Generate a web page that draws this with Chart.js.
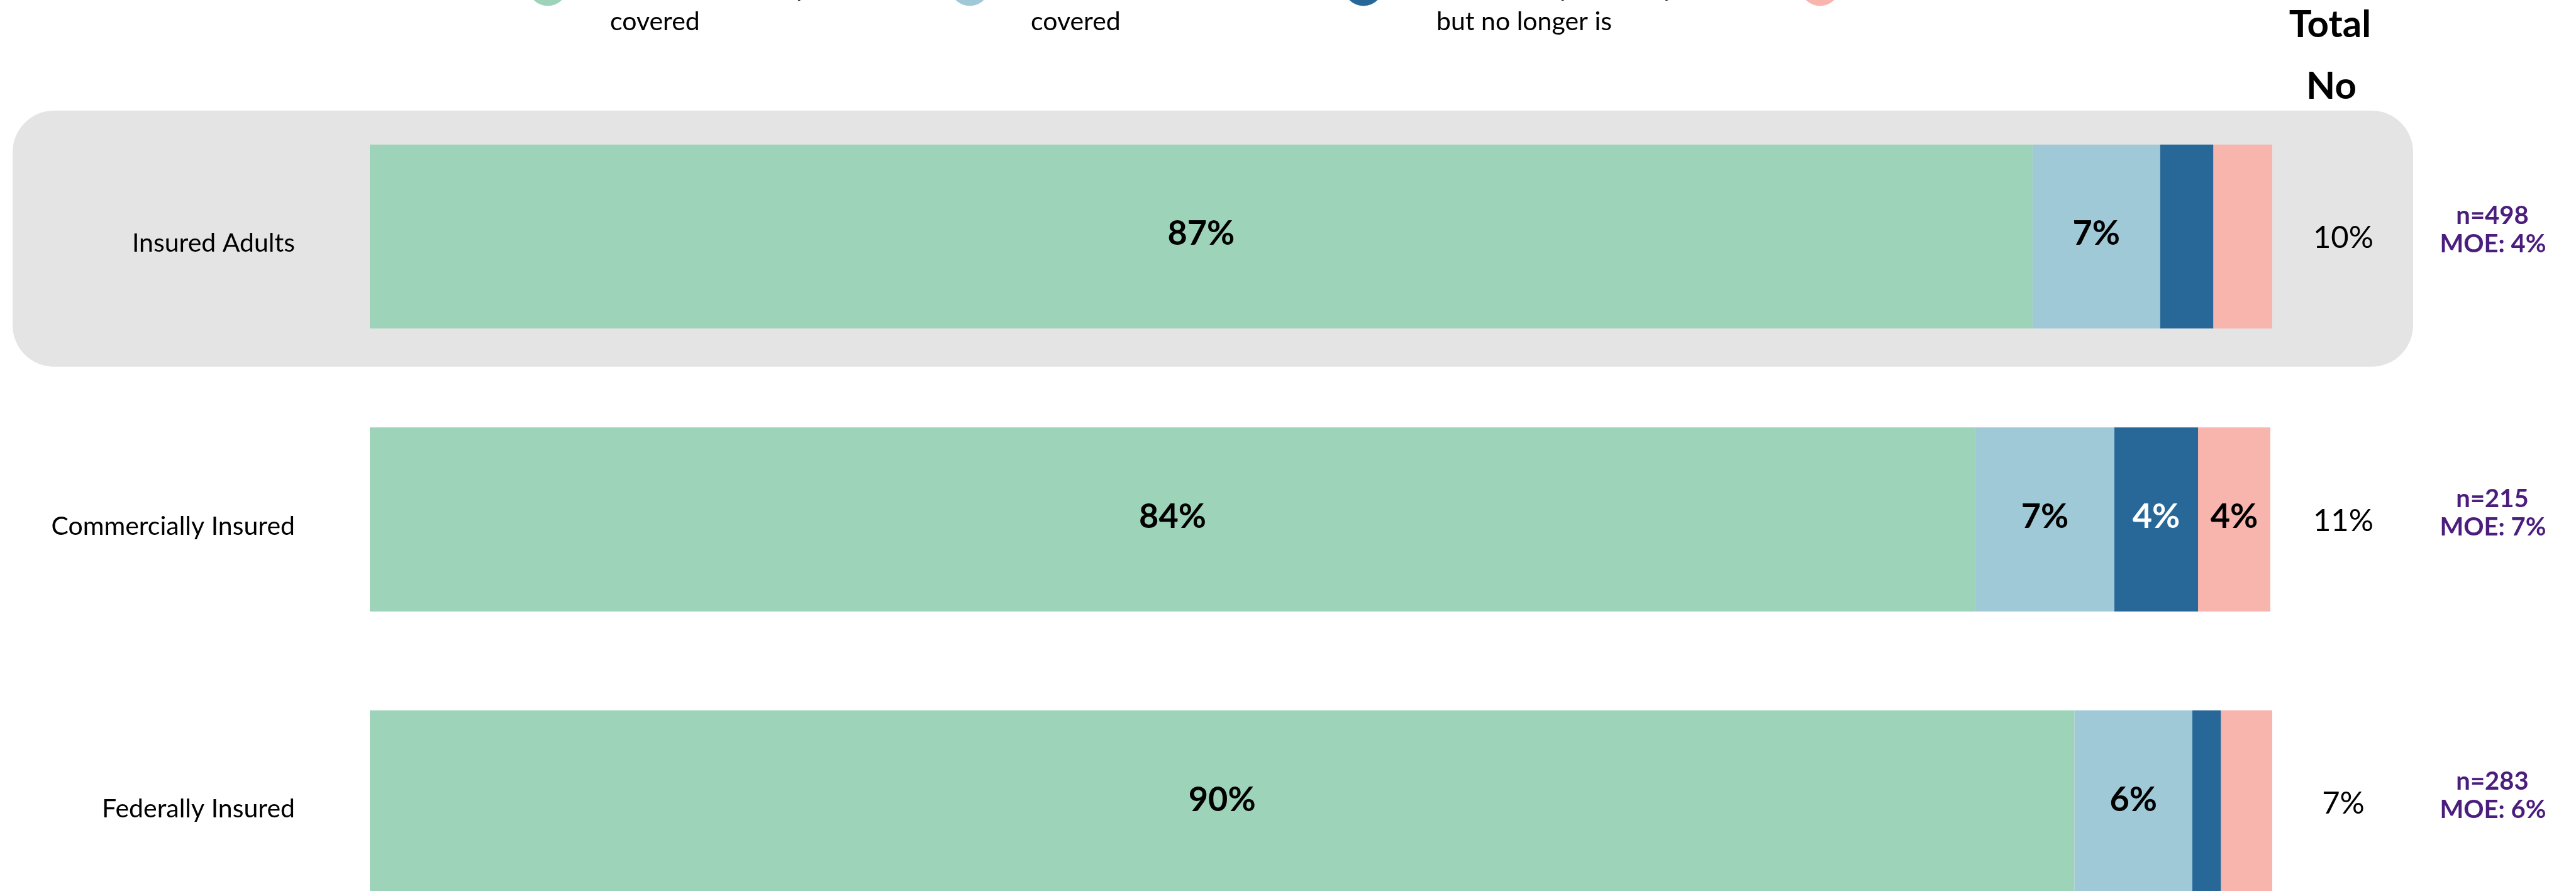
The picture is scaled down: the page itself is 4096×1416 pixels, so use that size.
<!DOCTYPE html>
<html>
<head>
<meta charset="utf-8">
<title>Cobertura</title>
<script src="https://cdn.jsdelivr.net/npm/chart.js@4/dist/chart.umd.min.js"></script>
<style>
    html, body { margin: 0; padding: 0; background: #fff; overflow: hidden; }
    #marco { position: relative; width: 4096px; height: 1416px; overflow: hidden; }
    #chart1 { position: absolute; left: 0; top: 0; width: 4096px; height: 1500px; }
</style>
</head>
<body>
<div id="marco"><canvas id="chart1" width="4096" height="1500"></canvas></div>
<script>
// Datos.
const categorias = ['Insured Adults', 'Commercially Insured', 'Federally Insured'];
const nombresSeries = [
    ['Yes, it is currently', 'covered'],
    ['No, it is not', 'covered'],
    ['Yes, it was previously covered,', 'but no longer is'],
    ["Don't know, not sure"]
];
const siCubierto = [87.4, 84.4, 89.6];
const noCubierto = [6.7, 7.3, 6.2];
const yaNoCubierto = [2.8, 4.4, 1.5];
const noSabe = [3.2, 3.8, 2.7];
const totalNo = [10, 11, 7];
const muestras = [498, 215, 283];
const margenError = [4, 7, 6];

// Colores de cada serie.
const colores = ['#9DD3B9', '#A0C9D7', '#286898', '#F7B5AD'];
const FUENTE = 'Lato, "Open Sans", sans-serif';

// Fondo gris redondeado detrás de la primera fila.
const fondoFila = {
    id: 'fondoFila',
    beforeDraw(chart) {
        const ctx = chart.ctx;
        const yc = chart.scales.y.getPixelForValue(0);
        ctx.save();
        ctx.fillStyle = '#E4E4E4';
        ctx.beginPath();
        ctx.roundRect(20, yc - 200, 3817, 407, 66);
        ctx.fill();
        ctx.restore();
    }
};

// Porcentajes dentro de cada segmento de la barra.
const etiquetasBarras = {
    id: 'etiquetasBarras',
    afterDatasetsDraw(chart) {
        const ctx = chart.ctx;
        ctx.save();
        ctx.font = 'bold 54px ' + FUENTE;
        ctx.textAlign = 'center';
        ctx.textBaseline = 'middle';
        chart.data.datasets.forEach((ds, i) => {
            chart.getDatasetMeta(i).data.forEach((bar, j) => {
                const v = ds.data[j];
                if (v < 3.5) return;
                ctx.fillStyle = i === 2 ? '#FFFFFF' : '#000000';
                ctx.fillText(Math.round(v) + '%', (bar.x + bar.base) / 2, bar.y - 4);
            });
        });
        ctx.restore();
    }
};

// Columna "Total No", muestras y leyenda superior.
const textosExtra = {
    id: 'textosExtra',
    afterDraw(chart) {
        const ctx = chart.ctx;
        const y = chart.scales.y;
        ctx.save();
        ctx.textAlign = 'center';
        ctx.textBaseline = 'middle';
        ctx.fillStyle = '#000';
        ctx.font = 'bold 60px ' + FUENTE;
        ctx.fillText('Total', 3705, 40);
        ctx.fillText('No', 3707, 138);

        ctx.textBaseline = 'alphabetic';
        categorias.forEach((c, i) => {
            const yc = y.getPixelForValue(i);
            ctx.fillStyle = '#000';
            ctx.font = '49px ' + FUENTE;
            ctx.fillText(totalNo[i] + '%', 3726, yc + 18);
            ctx.fillStyle = '#4B1E7E';
            ctx.font = 'bold 40px ' + FUENTE;
            ctx.fillText('n=' + muestras[i], 3963, yc - 20);
            ctx.fillText('MOE: ' + margenError[i] + '%', 3964, yc + 25);
        });

        // Leyenda (cortada arriba, como en la referencia).
        const circulos = [871, 1542, 2168, 2894];
        const textoX = [970, 1639, 2284, 2960];
        ctx.textAlign = 'left';
        ctx.font = '41px ' + FUENTE;
        nombresSeries.forEach((lineas, i) => {
            ctx.fillStyle = colores[i];
            ctx.beginPath();
            ctx.arc(circulos[i], -22, 31.5, 0, Math.PI * 2);
            ctx.fill();
            ctx.fillStyle = '#000';
            const base = lineas.length > 1 ? 47.5 : -6;
            lineas.slice().reverse().forEach((t, k) => {
                ctx.fillText(t, textoX[i], base - k * 54);
            });
        });
        ctx.restore();
    }
};

const ctx = document.getElementById('chart1').getContext('2d');
const grafico = new Chart(ctx, {
    type: 'bar',
    data: {
        labels: categorias,
        datasets: [siCubierto, noCubierto, yaNoCubierto, noSabe].map((serie, i) => ({
            label: nombresSeries[i].join(' '),
            data: serie,
            backgroundColor: colores[i],
            borderWidth: 0,
            barPercentage: 0.65,
            categoryPercentage: 1
        }))
    },
    options: {
        indexAxis: 'y',
        responsive: false,
        animation: false,
        devicePixelRatio: 1,
        layout: { padding: { top: 151, right: 483, bottom: 0, left: 0 } },
        plugins: {
            legend: { display: false },
            tooltip: { enabled: false }
        },
        scales: {
            x: { stacked: true, min: 0, max: 100, display: false },
            y: {
                stacked: true,
                grid: { display: false, drawTicks: false },
                border: { display: false },
                ticks: {
                    color: '#000',
                    font: { family: FUENTE, size: 41 },
                    padding: 119,
                    labelOffset: 11
                },
                // Ancho fijo del eje y sin margen vertical extra.
                afterFit(scale) {
                    scale.width = 588;
                    scale.paddingTop = 0;
                    scale.paddingBottom = 0;
                }
            }
        }
    },
    plugins: [fondoFila, etiquetasBarras, textosExtra]
});
</script>
</body>
</html>
